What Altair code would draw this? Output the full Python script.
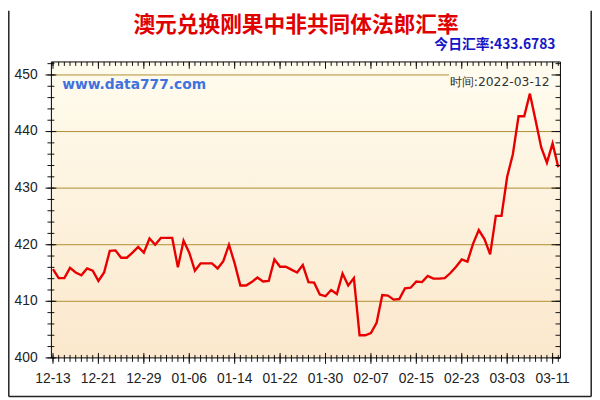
import altair as alt
import pandas as pd

title_text = "澳元兑换刚果中非共同体法郎汇率"
rate_text = "今日汇率:433.6783"
site_text = "www.data777.com"
time_text = "时间:2022-03-12"

# daily rates from 2021-12-13 to 2022-03-12
values = [
    415.7, 414.1, 414.1, 415.9, 415.1, 414.6, 415.8, 415.4, 413.6, 415.1,
    418.9, 419.0, 417.7, 417.7, 418.6, 419.6, 418.6, 421.1, 420.0, 421.2,
    421.2, 421.2, 416.0, 420.7, 418.6, 415.4, 416.7, 416.7, 416.7, 415.8,
    417.1, 420.0, 416.7, 412.8, 412.8, 413.4, 414.2, 413.5, 413.6, 417.4,
    416.1, 416.1, 415.6, 415.1, 416.4, 413.4, 413.3, 411.2, 410.9, 412.0,
    411.3, 414.9, 412.8, 414.1, 404.0, 404.0, 404.4, 406.2, 411.1, 411.0,
    410.3, 410.4, 412.3, 412.4, 413.5, 413.4, 414.5, 414.0, 414.0, 414.1,
    415.0, 416.1, 417.4, 417.0, 420.2, 422.6, 421.0, 418.3, 425.1, 425.1,
    432.0, 436.0, 442.7, 442.7, 446.7, 442.0, 437.2, 434.5, 437.9, 433.7,
]
tick_labels = ["12-13", "12-21", "12-29", "01-06", "01-14", "01-22",
               "01-30", "02-07", "02-15", "02-23", "03-03", "03-11"]
label_days = [0, 8, 16, 24, 32, 40, 48, 56, 64, 72, 80, 88]
y_labels = [400, 410, 420, 430, 440, 450]
grid_vals = [410, 420, 430, 440, 450]
y_minor = list(range(400, 453, 2))

W, H = 516, 300
days = list(range(len(values)))
df = pd.DataFrame({"day": days, "rate": values})
one = pd.DataFrame({"a": [0]})

xs = alt.Scale(domain=[-0.28, 89.38], nice=False, zero=False)
ys = alt.Scale(domain=[400, 452.3], nice=False, zero=False)

bg = alt.Chart(one).mark_rect(
    color=alt.Gradient(
        gradient="linear",
        stops=[alt.GradientStop(color="#FFFCEE", offset=0),
               alt.GradientStop(color="#FBE8CD", offset=1)],
        x1=0, x2=0, y1=0, y2=1,
    )
).encode(x=alt.value(0), x2=alt.value(W), y=alt.value(0), y2=alt.value(H))

grid = alt.Chart(pd.DataFrame({"g": grid_vals})).mark_rule(
    color="#B08C30", strokeWidth=1
).encode(y=alt.Y("g:Q", scale=ys, axis=None), x=alt.value(0), x2=alt.value(W))

time_box = alt.Chart(one).mark_rect(color="#FFFCEF").encode(
    x=alt.value(403), x2=alt.value(W - 2), y=alt.value(8), y2=alt.value(30)
)

line = alt.Chart(df).mark_line(color="#E80000", strokeWidth=2.4).encode(
    x=alt.X("day:Q", scale=xs, axis=None),
    y=alt.Y("rate:Q", scale=ys, axis=None),
)

day_df = pd.DataFrame({"d": days})
major_df = pd.DataFrame({"d": label_days, "lab": tick_labels})
ymin_df = pd.DataFrame({"v": y_minor})
ymaj_df = pd.DataFrame({"v": y_labels})

bx = alt.X("d:Q", scale=xs, axis=None)
by = alt.Y("v:Q", scale=ys, axis=None)
tick_col = "#111111"

bottom_minor = alt.Chart(day_df).mark_rule(color=tick_col).encode(
    x=bx, y=alt.value(H - 3), y2=alt.value(H + 4))
bottom_major = alt.Chart(major_df).mark_rule(color=tick_col).encode(
    x=bx, y=alt.value(H - 5), y2=alt.value(H + 6))
top_minor = alt.Chart(day_df).mark_rule(color=tick_col).encode(
    x=bx, y=alt.value(0), y2=alt.value(4))
top_major = alt.Chart(major_df).mark_rule(color=tick_col).encode(
    x=bx, y=alt.value(0), y2=alt.value(7))
left_minor = alt.Chart(ymin_df).mark_rule(color=tick_col).encode(
    y=by, x=alt.value(-4), x2=alt.value(3))
left_major = alt.Chart(ymaj_df).mark_rule(color=tick_col).encode(
    y=by, x=alt.value(-6), x2=alt.value(5))
right_minor = alt.Chart(ymin_df).mark_rule(color=tick_col).encode(
    y=by, x=alt.value(W - 5), x2=alt.value(W))
right_major = alt.Chart(ymaj_df).mark_rule(color=tick_col).encode(
    y=by, x=alt.value(W - 9), x2=alt.value(W))

x_labels = alt.Chart(major_df).mark_text(
    font="Liberation Sans", fontSize=14, color="#222222",
    align="center", baseline="middle"
).encode(x=bx, y=alt.value(H + 21), text="lab:N")

y_lab = alt.Chart(ymaj_df).mark_text(
    font="Liberation Sans", fontSize=14, color="#222222",
    align="right", baseline="middle"
).encode(y=by, x=alt.value(-14), text="v:Q")

frame = alt.Chart(one).mark_rect(filled=False, stroke="#000000", strokeWidth=1).encode(
    x=alt.value(0), x2=alt.value(W), y=alt.value(0), y2=alt.value(H))

border_col = "#222222"
outer_left = alt.Chart(one).mark_rule(color=border_col, strokeWidth=1.5).encode(
    x=alt.value(-43.2), y=alt.value(-52), y2=alt.value(339.2))
outer_right = alt.Chart(one).mark_rule(color=border_col, strokeWidth=1.5).encode(
    x=alt.value(547.2), y=alt.value(-52), y2=alt.value(339.2))
outer_bottom = alt.Chart(one).mark_rule(color=border_col, strokeWidth=1.5).encode(
    y=alt.value(339.2), x=alt.value(-43.2), x2=alt.value(547.2))

title = alt.Chart(one).mark_text(
    font="Noto Sans CJK SC", fontSize=22, fontWeight="bold", color="#E00000",
    align="center", baseline="middle"
).encode(x=alt.value(248), y=alt.value(-37), text=alt.value(title_text))

rate = alt.Chart(one).mark_text(
    font="Noto Sans CJK SC", fontSize=14, fontWeight="bold", color="#1515C8",
    align="right", baseline="middle"
).encode(x=alt.value(511), y=alt.value(-17), text=alt.value(rate_text))

site = alt.Chart(one).mark_text(
    font="DejaVu Sans", fontSize=14, fontWeight="bold", color="#3F72DE",
    align="left", baseline="middle"
).encode(x=alt.value(11), y=alt.value(23), text=alt.value(site_text))

time_lbl = alt.Chart(one).mark_text(
    font="DejaVu Sans", fontSize=12.5, color="#333333",
    align="right", baseline="middle"
).encode(x=alt.value(505), y=alt.value(20), text=alt.value(time_text))

chart = alt.layer(
    bg, grid, time_box, line,
    bottom_minor, bottom_major, top_minor, top_major,
    left_minor, left_major, right_minor, right_major,
    frame, outer_left, outer_right, outer_bottom,
    x_labels, y_lab, title, rate, site, time_lbl,
).properties(
    width=W, height=H,
    autosize=alt.AutoSizeParams(type="none"),
    padding={"left": 44, "top": 52, "right": 32, "bottom": 40},
    background="#FFFFFF",
).configure_view(strokeWidth=0)

chart.save("out.html", embed_options={"renderer": "svg", "actions": False})
